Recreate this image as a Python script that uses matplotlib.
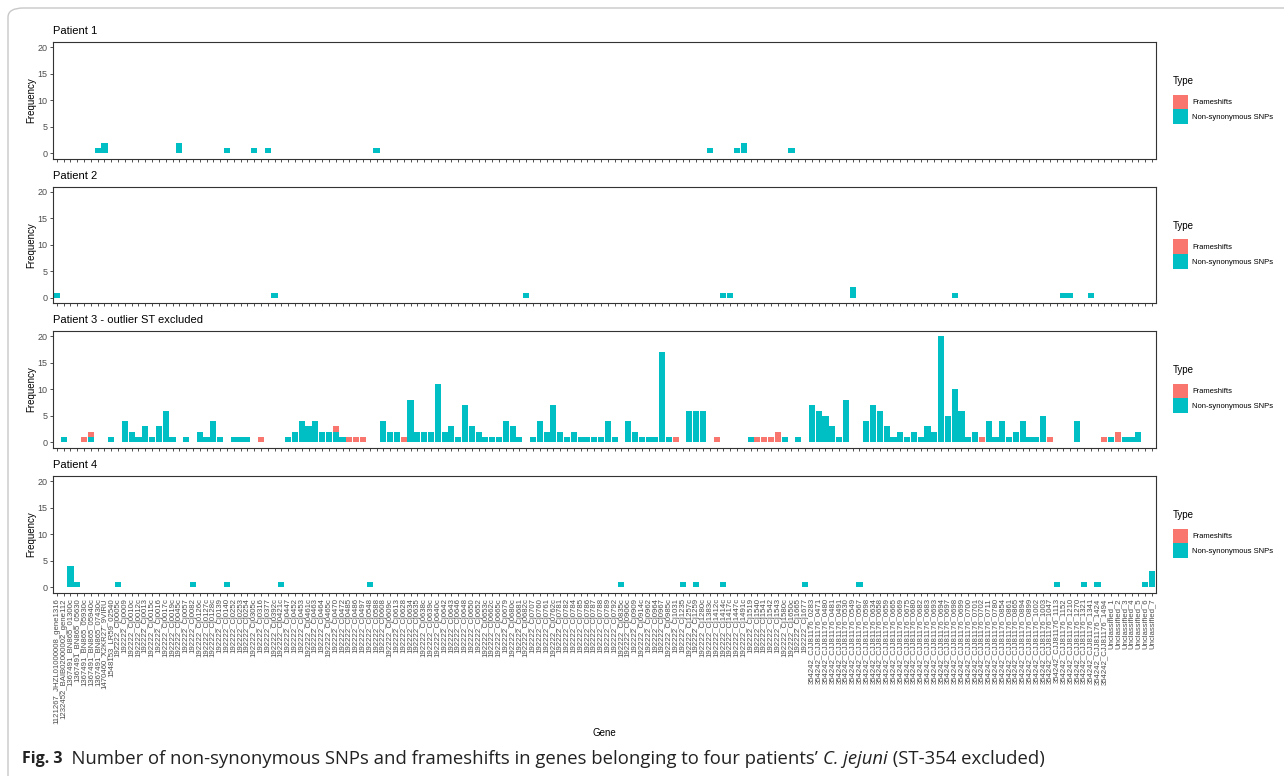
import matplotlib.pyplot as plt
from matplotlib.patches import Patch, FancyBboxPatch

plt.rcParams['font.family'] = ['Liberation Sans', 'DejaVu Sans']

# gene categories (x axis)
other_genes = ["1121267_JHZL01000008_gene1316", "1232452_BAIB02000002_gene112",
               "1367491_BN865_01300c", "1367491_BN865_05630", "1367491_BN865_05930c",
               "1367491_BN865_05940c", "1367491_BN865_07430c", "1470460_X2KR27_9VIRU",
               "1548153_LR59_02540"]
cj_ids = ["Cj0005c", "Cj0009", "Cj0010c", "Cj0012c", "Cj0013", "Cj0015c", "Cj0016", "Cj0017c",
          "Cj0019c", "Cj0045c", "Cj0057", "Cj0082", "Cj0126c", "Cj0127c", "Cj0128c", "Cj0139",
          "Cj0140", "Cj0252", "Cj0253", "Cj0254", "Cj0305c", "Cj0316", "Cj0377", "Cj0392c",
          "Cj0421c", "Cj0447", "Cj0452", "Cj0453", "Cj0461c", "Cj0463", "Cj0464", "Cj0465c",
          "Cj0470", "Cj0472", "Cj0485", "Cj0486", "Cj0497", "Cj0548", "Cj0588", "Cj0608",
          "Cj0609c", "Cj0613", "Cj0628", "Cj0634", "Cj0635", "Cj0638c", "Cj0639c", "Cj0640c",
          "Cj0642", "Cj0643", "Cj0646", "Cj0648", "Cj0650", "Cj0652", "Cj0653c", "Cj0662c",
          "Cj0665c", "Cj0679", "Cj0680c", "Cj0681", "Cj0682c", "Cj0707", "Cj0760", "Cj0761",
          "Cj0762c", "Cj0781", "Cj0782", "Cj0784", "Cj0785", "Cj0786", "Cj0787", "Cj0788",
          "Cj0789", "Cj0792", "Cj0835c", "Cj0906c", "Cj0909", "Cj0914c", "Cj0962", "Cj0964",
          "Cj0967", "Cj0985c", "Cj1031", "Cj1235", "Cj1257c", "Cj1259", "Cj1280c", "Cj1383c",
          "Cj1412c", "Cj1414c", "Cj1417c", "Cj1447c", "Cj1491c", "Cj1519", "Cj1540", "Cj1541",
          "Cj1542", "Cj1543", "Cj1580c", "Cj1650c", "Cj1665", "Cj1677"]
cjj_ids = ["0283", "0471", "0480", "0481", "0491", "0530", "0549", "0567", "0598", "0634",
           "0658", "0659", "0665", "0669", "0675", "0680", "0682", "0683", "0693", "0694",
           "0697", "0698", "0699", "0700", "0701", "0702", "0711", "0780", "0854", "0861",
           "0865", "0894", "0899", "1002", "1003", "1047", "1113", "1152", "1210", "1270",
           "1321", "1341", "1424", "1494"]
unclassified = ["Unclassified_1", "Unclassified_2", "Unclassified_3", "Unclassified_4",
                "Unclassified_5", "Unclassified_6", "Unclassified_7"]

genes = (other_genes + ["192222_" + c for c in cj_ids]
         + ["354242_CJJ81176_" + c for c in cjj_ids] + unclassified)

# counts per patient (genes not listed = 0)
p1_snp = {"1367491_BN865_07430c": 1, "1470460_X2KR27_9VIRU": 2, "192222_Cj0045c": 2,
          "192222_Cj0140": 1, "192222_Cj0305c": 1, "192222_Cj0377": 1, "192222_Cj0588": 1,
          "192222_Cj1383c": 1, "192222_Cj1447c": 1, "192222_Cj1491c": 2, "192222_Cj1650c": 1}
p1_fs = {}

p2_snp = {"1121267_JHZL01000008_gene1316": 1, "192222_Cj0392c": 1, "192222_Cj0682c": 1,
          "192222_Cj1414c": 1, "192222_Cj1417c": 1, "354242_CJJ81176_0549": 2,
          "354242_CJJ81176_0698": 1, "354242_CJJ81176_1152": 1, "354242_CJJ81176_1210": 1,
          "354242_CJJ81176_1341": 1}
p2_fs = {}

p3_snp = {"1232452_BAIB02000002_gene112": 1, "1367491_BN865_05940c": 1, "1548153_LR59_02540": 1,
          "192222_Cj0009": 4, "192222_Cj0010c": 2, "192222_Cj0012c": 1, "192222_Cj0013": 3,
          "192222_Cj0015c": 1, "192222_Cj0016": 3, "192222_Cj0017c": 6, "192222_Cj0019c": 1,
          "192222_Cj0057": 1, "192222_Cj0126c": 2, "192222_Cj0127c": 1, "192222_Cj0128c": 4,
          "192222_Cj0139": 1, "192222_Cj0252": 1, "192222_Cj0253": 1, "192222_Cj0254": 1,
          "192222_Cj0447": 1, "192222_Cj0452": 2, "192222_Cj0453": 4, "192222_Cj0461c": 3,
          "192222_Cj0463": 4, "192222_Cj0464": 2, "192222_Cj0465c": 2, "192222_Cj0470": 2,
          "192222_Cj0472": 1, "192222_Cj0608": 4, "192222_Cj0609c": 2, "192222_Cj0613": 2,
          "192222_Cj0634": 8, "192222_Cj0635": 2, "192222_Cj0638c": 2, "192222_Cj0639c": 2,
          "192222_Cj0640c": 11, "192222_Cj0642": 2, "192222_Cj0643": 3, "192222_Cj0646": 1,
          "192222_Cj0648": 7, "192222_Cj0650": 3, "192222_Cj0652": 2, "192222_Cj0653c": 1,
          "192222_Cj0662c": 1, "192222_Cj0665c": 1, "192222_Cj0679": 4, "192222_Cj0680c": 3,
          "192222_Cj0681": 1, "192222_Cj0707": 1, "192222_Cj0760": 4, "192222_Cj0761": 2,
          "192222_Cj0762c": 7, "192222_Cj0781": 2, "192222_Cj0782": 1, "192222_Cj0784": 2,
          "192222_Cj0785": 1, "192222_Cj0786": 1, "192222_Cj0787": 1, "192222_Cj0788": 1,
          "192222_Cj0789": 4, "192222_Cj0792": 1, "192222_Cj0906c": 4, "192222_Cj0909": 2,
          "192222_Cj0914c": 1, "192222_Cj0962": 1, "192222_Cj0964": 1, "192222_Cj0967": 17,
          "192222_Cj0985c": 1, "192222_Cj1257c": 6, "192222_Cj1259": 6, "192222_Cj1280c": 6,
          "192222_Cj1519": 1, "192222_Cj1580c": 1, "192222_Cj1665": 1,
          "354242_CJJ81176_0283": 7, "354242_CJJ81176_0471": 6, "354242_CJJ81176_0480": 5,
          "354242_CJJ81176_0481": 3, "354242_CJJ81176_0491": 1, "354242_CJJ81176_0530": 8,
          "354242_CJJ81176_0598": 4, "354242_CJJ81176_0634": 7, "354242_CJJ81176_0658": 6,
          "354242_CJJ81176_0659": 3, "354242_CJJ81176_0665": 1, "354242_CJJ81176_0669": 2,
          "354242_CJJ81176_0675": 1, "354242_CJJ81176_0680": 2, "354242_CJJ81176_0682": 1,
          "354242_CJJ81176_0683": 3, "354242_CJJ81176_0693": 2, "354242_CJJ81176_0694": 20,
          "354242_CJJ81176_0697": 5, "354242_CJJ81176_0698": 10, "354242_CJJ81176_0699": 6,
          "354242_CJJ81176_0700": 1, "354242_CJJ81176_0701": 2, "354242_CJJ81176_0711": 4,
          "354242_CJJ81176_0780": 1, "354242_CJJ81176_0854": 4, "354242_CJJ81176_0861": 1,
          "354242_CJJ81176_0865": 2, "354242_CJJ81176_0894": 4, "354242_CJJ81176_0899": 1,
          "354242_CJJ81176_1002": 1, "354242_CJJ81176_1003": 5, "354242_CJJ81176_1270": 4,
          "Unclassified_1": 1, "Unclassified_3": 1, "Unclassified_4": 1, "Unclassified_5": 2}
p3_fs = {"1367491_BN865_05930c": 1, "1367491_BN865_05940c": 1, "192222_Cj0316": 1,
         "192222_Cj0470": 1, "192222_Cj0485": 1, "192222_Cj0486": 1, "192222_Cj0497": 1,
         "192222_Cj0628": 1, "192222_Cj1031": 1, "192222_Cj1412c": 1, "192222_Cj1540": 1,
         "192222_Cj1541": 1, "192222_Cj1542": 1, "192222_Cj1543": 2,
         "354242_CJJ81176_0702": 1, "354242_CJJ81176_1047": 1, "354242_CJJ81176_1494": 1,
         "Unclassified_2": 2}

p4_snp = {"1367491_BN865_01300c": 4, "1367491_BN865_05630": 1, "192222_Cj0005c": 1,
          "192222_Cj0082": 1, "192222_Cj0140": 1, "192222_Cj0421c": 1, "192222_Cj0548": 1,
          "192222_Cj0835c": 1, "192222_Cj1235": 1, "192222_Cj1259": 1, "192222_Cj1414c": 1,
          "192222_Cj1677": 1, "354242_CJJ81176_0567": 1, "354242_CJJ81176_1113": 1,
          "354242_CJJ81176_1321": 1, "354242_CJJ81176_1424": 1, "Unclassified_6": 1,
          "Unclassified_7": 3}
p4_fs = {}

panel_titles = ["Patient 1", "Patient 2", "Patient 3 - outlier ST excluded", "Patient 4"]
panels = [(p1_snp, p1_fs), (p2_snp, p2_fs), (p3_snp, p3_fs), (p4_snp, p4_fs)]

c_fs = '#F8766D'
c_snp = '#00BFC4'
W, H = 1284, 776

fig = plt.figure(figsize=(W / 100, H / 100), dpi=100)

# outer frame of the figure box
frame = FancyBboxPatch((8 / W, -0.05), 1.05, (H - 8) / H + 0.05,
                       boxstyle="round,pad=0,rounding_size=0.012",
                       transform=fig.transFigure, fc='none', ec='#c8c8c8', lw=1.0)
fig.add_artist(frame)

x = list(range(len(genes)))
left_px, right_px, h_px = 52.8, 1156, 116.6
tops = [42, 186.7, 331, 476]

for k, (snp, fs) in enumerate(panels):
    top = tops[k]
    ax = fig.add_axes([left_px / W, 1 - (top + h_px) / H, (right_px - left_px) / W, h_px / H])
    snp_vals = [snp.get(g, 0) for g in genes]
    fs_vals = [fs.get(g, 0) for g in genes]
    ax.bar(x, snp_vals, width=0.9, color=c_snp, linewidth=0)
    ax.bar(x, fs_vals, width=0.9, bottom=snp_vals, color=c_fs, linewidth=0)
    ax.set_xlim(-0.6, len(genes) - 0.4)
    ax.set_ylim(-1, 21)
    ax.set_yticks([0, 5, 10, 15, 20])
    ax.set_xticks(x)
    if k == 3:
        ax.set_xticklabels(genes, rotation=90, fontsize=5.6, color='#4D4D4D')
        ax.set_xlabel("Gene", fontsize=7, labelpad=3)
    else:
        ax.set_xticklabels([])
    ax.tick_params(axis='x', length=2.5, width=0.6, color='#333333', pad=1.5)
    ax.tick_params(axis='y', length=2.5, width=0.6, color='#333333', labelsize=6.5,
                   labelcolor='#4D4D4D', pad=1.5)
    for s in ax.spines.values():
        s.set_color('#333333')
        s.set_linewidth(0.8)
    ax.set_ylabel("Frequency", fontsize=7, labelpad=1)
    fig.text(left_px / W, 1 - (top - 11) / H, panel_titles[k], fontsize=8, va='center', ha='left')
    handles = [Patch(fc=c_fs, ec='none', label='Frameshifts'),
               Patch(fc=c_snp, ec='none', label='Non-synonymous SNPs')]
    leg = ax.legend(handles=handles, title='Type', loc='center left', bbox_to_anchor=(1.015, 0.5),
                    frameon=False, fontsize=5.5, title_fontsize=7, handlelength=2.0,
                    handleheight=2.6, labelspacing=0.0, handletextpad=0.6, borderpad=0,
                    borderaxespad=0, alignment='left')
    leg._legend_box.sep = 6

# caption
cap_y = 1 - 759 / H
renderer = fig.canvas.get_renderer()
parts = [("Fig. 3", 'normal', 'bold', 11.5),
         ("  Number of non-synonymous SNPs and frameshifts in genes belonging to four patients\u2019 ",
          'normal', 'normal', 13.3),
         ("C. jejuni", 'italic', 'normal', 13.3),
         (" (ST-354 excluded)", 'normal', 'normal', 13.3)]
cx = 22 / W
for txt, style, weight, size in parts:
    t = fig.text(cx, cap_y, txt, fontsize=size, fontstyle=style, fontweight=weight,
                 va='center', ha='left', family=['Open Sans', 'DejaVu Sans'], color='#222222')
    bb = t.get_window_extent(renderer=renderer)
    cx = cx + bb.width / W

fig.savefig('out.png', dpi=100)
